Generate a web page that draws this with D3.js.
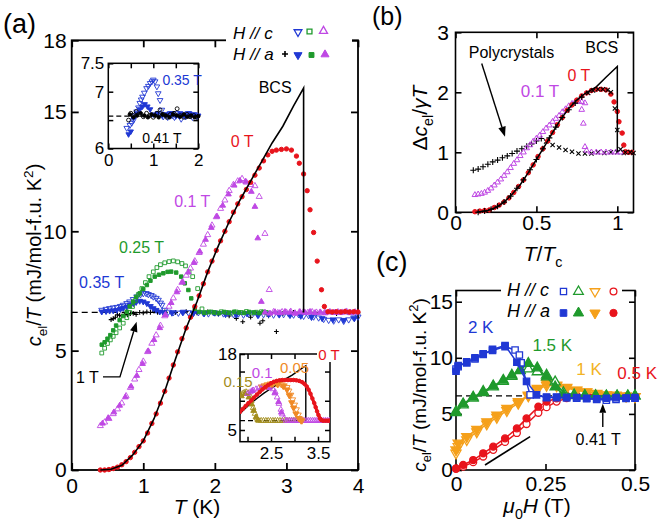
<!DOCTYPE html>
<html><head><meta charset="utf-8">
<script src="https://cdn.jsdelivr.net/npm/d3@7"></script>
<style>body{margin:0;background:#fff}svg{display:block}</style>
</head><body><div id="chart"></div>
<script>
// ================= DATA =================
// ---- panel (a): c_el/T (mJ/mol-f.u. K^2) vs T (K) ----
const aGammaN = 6.6;
const aBCS = [[0.40,0.00],[0.55,0.03],[0.70,0.20],[0.85,0.62],[1.00,1.22],[1.15,2.15],[1.30,3.30],[1.45,4.65],[1.60,5.95],[1.75,7.05],[1.90,8.30],[2.05,9.40],[2.20,10.40],[2.35,11.30],[2.50,12.10],[2.65,12.90],[2.80,13.70],[2.95,14.40],[3.10,15.25],[3.24,16.00],[3.24,6.60]];
const a0T = [[0.40,0.00],[0.46,0.00],[0.52,0.02],[0.58,0.06],[0.64,0.12],[0.70,0.22],[0.76,0.35],[0.82,0.52],[0.88,0.74],[0.94,0.98],[1.00,1.22],[1.06,1.55],[1.12,1.95],[1.18,2.35],[1.24,2.80],[1.30,3.30],[1.36,3.85],[1.42,4.40],[1.48,4.95],[1.54,5.50],[1.60,5.95],[1.66,6.40],[1.72,6.85],[1.78,7.30],[1.84,7.80],[1.90,8.30],[1.96,8.75],[2.02,9.20],[2.08,9.60],[2.14,10.00],[2.20,10.40],[2.26,10.80],[2.32,11.15],[2.38,11.45],[2.44,11.75],[2.50,12.05],[2.56,12.35],[2.62,12.65],[2.68,12.95],[2.74,13.20],[2.80,13.35],[2.86,13.40],[2.93,13.43],[3.00,13.45],[3.07,13.40],[3.14,13.15],[3.18,12.85],[3.24,12.40],[3.29,11.70],[3.33,10.90],[3.38,9.95],[3.43,8.75],[3.49,7.55],[3.53,6.85],[3.58,6.63],[3.64,6.62],[3.70,6.63],[3.76,6.62],[3.82,6.64],[3.88,6.62],[3.94,6.63],[4.00,6.62]];
const a01T_c = [[0.40,1.85],[0.46,2.00],[0.52,2.15],[0.58,2.35],[0.64,2.55],[0.70,2.80],[0.76,3.10],[0.82,3.45],[0.88,3.80],[0.94,4.20],[1.00,4.55],[1.06,4.95],[1.12,5.30],[1.18,5.65],[1.24,6.05],[1.30,6.45],[1.36,6.85],[1.42,7.20],[1.48,7.55],[1.54,7.85],[1.60,8.15],[1.66,8.45],[1.72,8.75],[1.78,9.10],[1.84,9.45],[1.90,9.85],[1.96,10.25],[2.02,10.60],[2.08,10.95],[2.14,11.30],[2.20,11.70],[2.26,11.95],[2.32,12.10],[2.38,12.20],[2.44,12.05],[2.50,11.95],[2.56,11.90],[2.62,11.45],[2.70,9.90],[2.76,7.55],[2.82,6.62],[2.88,6.58],[2.94,6.62],[3.00,6.60],[3.06,6.64],[3.12,6.57],[3.18,6.61],[3.24,6.63],[3.30,6.59],[3.36,6.62],[3.42,6.60],[3.48,6.58],[3.54,6.63],[3.60,6.61],[3.66,6.59],[3.72,6.62],[3.78,6.60],[3.84,6.64],[3.90,6.58],[3.96,6.61]];
const a01T_a = [[0.43,1.95],[0.51,2.18],[0.59,2.42],[0.67,2.70],[0.75,3.05],[0.83,3.50],[0.91,3.95],[0.99,4.45],[1.07,4.98],[1.15,5.45],[1.23,5.95],[1.31,6.50],[1.39,7.00],[1.47,7.45],[1.55,7.88],[1.63,8.28],[1.71,8.68],[1.79,9.15],[1.87,9.65],[1.95,10.15],[2.03,10.62],[2.11,11.08],[2.19,11.55],[2.27,11.92],[2.35,12.12],[2.43,12.08],[2.51,11.66],[2.56,11.03],[2.60,9.71],[2.65,7.05],[2.70,6.60],[2.77,6.56],[2.84,6.62],[2.91,6.58],[2.98,6.63],[3.05,6.60],[3.12,6.56],[3.19,6.62],[3.26,6.59],[3.33,6.63],[3.40,6.58],[3.47,6.61],[3.54,6.57],[3.61,6.62],[3.68,6.60],[3.75,6.58],[3.82,6.62],[3.89,6.59],[3.96,6.61]];
const a025T_c = [[0.42,4.90],[0.46,5.10],[0.50,5.30],[0.54,5.45],[0.58,5.60],[0.62,5.75],[0.67,5.95],[0.72,6.15],[0.77,6.38],[0.81,6.60],[0.85,6.85],[0.89,7.10],[0.93,7.35],[0.98,7.60],[1.03,7.85],[1.08,8.10],[1.14,8.30],[1.19,8.48],[1.24,8.60],[1.30,8.68],[1.36,8.73],[1.42,8.76],[1.48,8.72],[1.54,8.65],[1.59,8.55],[1.64,8.30],[1.69,8.10],[1.76,7.60],[1.82,6.75],[1.88,6.60],[1.95,6.62],[2.02,6.58],[2.09,6.63],[2.16,6.60],[2.23,6.57],[2.30,6.62],[2.37,6.60],[2.44,6.64],[2.51,6.58],[2.58,6.61],[2.65,6.63],[2.72,6.60]];
const a025T_a = [[0.42,5.25],[0.46,5.35],[0.50,5.50],[0.54,5.65],[0.58,5.85],[0.62,6.05],[0.67,6.28],[0.72,6.45],[0.77,6.63],[0.81,6.85],[0.86,7.05],[0.90,7.25],[0.95,7.40],[1.00,7.58],[1.05,7.75],[1.10,7.93],[1.16,8.10],[1.22,8.18],[1.28,8.24],[1.34,8.30],[1.39,8.31],[1.46,8.27],[1.53,8.10],[1.58,7.82],[1.63,7.54],[1.67,7.19],[1.72,6.75],[1.78,6.62],[1.85,6.58],[1.92,6.62],[1.99,6.60],[2.06,6.57],[2.13,6.62],[2.20,6.59],[2.27,6.63],[2.34,6.60],[2.41,6.58],[2.48,6.62],[2.55,6.60],[2.62,6.57],[2.68,6.62]];
const a035T_c = [[0.42,6.70],[0.48,6.74],[0.53,6.77],[0.58,6.80],[0.63,6.82],[0.68,6.86],[0.72,6.91],[0.77,6.98],[0.81,7.05],[0.86,7.15],[0.91,7.26],[0.96,7.35],[1.00,7.40],[1.04,7.40],[1.07,7.36],[1.11,7.32],[1.14,7.26],[1.18,7.20],[1.21,7.12],[1.24,7.00],[1.26,6.91],[1.30,6.70],[1.35,6.62],[1.42,6.60],[1.49,6.58],[1.56,6.62],[1.63,6.60],[1.70,6.57],[1.77,6.60],[1.84,6.58],[1.91,6.55],[1.98,6.60],[2.05,6.57],[2.12,6.55],[2.19,6.58],[2.26,6.52],[2.33,6.55],[2.40,6.50],[2.47,6.55],[2.54,6.58],[2.61,6.50],[2.68,6.52],[2.75,6.55],[2.82,6.50],[2.89,6.55],[2.96,6.52],[3.03,6.55],[3.10,6.50],[3.17,6.52],[3.24,6.45],[3.31,6.48],[3.38,6.42],[3.45,6.38],[3.52,6.32],[3.59,6.28],[3.66,6.25],[3.73,6.30],[3.80,6.24],[3.87,6.30],[3.94,6.38],[4.00,6.42]];
const a035T_a = [[0.42,6.63],[0.48,6.65],[0.53,6.67],[0.58,6.68],[0.63,6.70],[0.68,6.74],[0.72,6.78],[0.77,6.84],[0.81,6.91],[0.86,6.98],[0.90,7.03],[0.95,7.08],[1.00,7.05],[1.05,6.98],[1.10,6.86],[1.14,6.77],[1.18,6.70],[1.23,6.63],[1.28,6.60],[1.40,6.58],[1.55,6.60],[1.70,6.57],[1.85,6.55],[2.00,6.58],[2.15,6.52],[2.30,6.50],[2.45,6.55],[2.60,6.48],[2.75,6.52],[2.90,6.50],[3.05,6.48],[3.20,6.45],[3.35,6.40],[3.50,6.35],[3.65,6.30],[3.80,6.28],[3.95,6.35]];
const a1T_a = [[0.55,6.30],[0.58,6.34],[0.61,6.40],[0.64,6.50],[0.67,6.48],[0.70,6.45],[0.74,6.52],[0.78,6.50],[0.82,6.55],[0.86,6.56],[0.90,6.52],[0.95,6.60],[1.00,6.58],[1.05,6.62],[1.10,6.60],[1.15,6.65],[1.20,6.60],[1.30,6.62],[1.45,6.60],[1.60,6.64],[1.75,6.58],[1.90,6.62],[2.05,6.55],[2.20,6.45],[2.30,6.35],[2.39,6.21],[2.50,6.40],[2.63,6.15],[2.67,6.25],[2.75,6.45],[2.86,5.80],[2.95,6.55],[3.10,6.60],[3.25,6.62],[3.40,6.58],[3.55,6.60],[3.70,6.55],[3.85,6.60],[4.00,6.58]];
const aXTicks = [0,1,2,3,4];
const aYTicks = [0,5,10,15,18];

// ---- inset 1 of (a) ----
const i1_035T_c = [[0.41,6.36],[0.48,6.41],[0.52,6.45],[0.56,6.50],[0.60,6.58],[0.63,6.65],[0.67,6.72],[0.70,6.80],[0.73,6.86],[0.76,6.91],[0.80,6.98],[0.85,7.06],[0.89,7.10],[0.93,7.15],[0.97,7.18],[1.00,7.21],[1.04,7.18],[1.08,7.09],[1.11,6.97],[1.15,6.85],[1.19,6.68],[1.22,6.56],[1.27,6.60],[1.32,6.55],[1.37,6.62],[1.42,6.58],[1.47,6.55],[1.52,6.62],[1.57,6.58],[1.62,6.52],[1.67,6.60],[1.72,6.56],[1.77,6.62],[1.82,6.58],[1.87,6.55],[1.92,6.60],[1.97,6.57]];
const i1_035T_a = [[0.45,6.25],[0.50,6.30],[0.56,6.54],[0.63,6.62],[0.70,6.69],[0.76,6.74],[0.81,6.78],[0.87,6.74],[0.93,6.69],[1.00,6.60],[1.10,6.62],[1.20,6.58],[1.30,6.60],[1.40,6.62],[1.50,6.57],[1.60,6.62],[1.70,6.58],[1.80,6.62],[1.90,6.60],[2.00,6.58]];
const i1_041T_c = [[0.45,6.50],[0.50,6.62],[0.55,6.58],[0.62,6.65],[0.70,6.60],[0.78,6.56],[0.85,6.62],[0.92,6.58],[1.00,6.55],[1.08,6.62],[1.15,6.68],[1.22,6.60],[1.30,6.55],[1.38,6.60],[1.46,6.62],[1.53,6.70],[1.60,6.58],[1.68,6.55],[1.75,6.60],[1.82,6.56],[1.90,6.58],[1.97,6.55]];
const i1_041T_a = [[0.48,6.60],[0.56,6.55],[0.64,6.58],[0.72,6.62],[0.80,6.58],[0.88,6.55],[0.96,6.60],[1.04,6.58],[1.12,6.55],[1.20,6.60],[1.28,6.58],[1.36,6.55],[1.44,6.60],[1.52,6.58],[1.60,6.56],[1.68,6.60],[1.76,6.56],[1.84,6.58],[1.92,6.55],[2.00,6.57]];

// ---- inset 2 of (a) ----
const i2_0T = [[1.84,8.10],[1.90,8.60],[1.96,9.10],[2.02,9.60],[2.08,10.05],[2.14,10.55],[2.20,11.05],[2.26,11.50],[2.32,11.95],[2.38,12.35],[2.44,12.70],[2.50,13.00],[2.56,13.25],[2.62,13.40],[2.68,13.50],[2.74,13.55],[2.80,13.55],[2.86,13.55],[2.92,13.55],[2.98,13.55],[3.04,13.50],[3.10,13.40],[3.16,13.20],[3.21,12.90],[3.26,12.45],[3.30,11.90],[3.34,11.20],[3.38,10.40],[3.42,9.60],[3.45,8.90],[3.48,8.20],[3.51,7.55],[3.54,7.00],[3.57,6.70],[3.61,6.60],[3.66,6.60],[3.71,6.60],[3.75,6.60]];
const i2_005T_c = [[2.30,12.40],[2.36,12.60],[2.42,12.78],[2.48,12.90],[2.54,12.95],[2.60,12.95],[2.66,12.90],[2.72,12.78],[2.78,12.60],[2.84,12.30],[2.88,11.70],[2.92,11.00],[2.96,10.20],[3.00,9.30],[3.04,8.50],[3.08,7.60],[3.12,6.90],[3.16,6.60]];
const i2_005T_a = [[2.40,12.55],[2.52,12.85],[2.64,12.80],[2.76,12.50],[2.84,11.90],[2.89,10.90],[2.94,9.70],[2.98,8.80],[3.03,7.80],[3.09,7.00],[3.14,6.60]];
const i2_01T_c = [[2.00,11.20],[2.06,11.50],[2.12,11.80],[2.18,12.00],[2.24,12.20],[2.30,12.35],[2.36,12.40],[2.42,12.40],[2.48,12.30],[2.54,12.00],[2.59,11.50],[2.63,10.60],[2.67,9.50],[2.71,8.50],[2.74,7.70],[2.78,7.00],[2.82,6.60],[2.86,6.60],[2.90,6.60],[2.94,6.60],[2.98,6.60],[3.02,6.60],[3.06,6.60],[3.10,6.60],[3.14,6.60],[3.18,6.60],[3.22,6.60],[3.26,6.60],[3.30,6.60],[3.34,6.60],[3.38,6.60],[3.42,6.60],[3.46,6.60],[3.50,6.60],[3.54,6.60],[3.58,6.60],[3.62,6.60],[3.66,6.60],[3.70,6.60],[3.74,6.60]];
const i2_01T_a = [[2.10,11.70],[2.30,12.30],[2.45,12.20],[2.58,11.30],[2.66,9.80],[2.72,8.00]];
const i2_015T_c = [[1.85,11.00],[1.89,11.20],[1.93,11.40],[1.97,11.50],[2.01,11.35],[2.05,10.90],[2.08,10.00],[2.12,8.80],[2.16,7.80],[2.20,7.00],[2.24,6.60],[2.29,6.60],[2.34,6.60],[2.39,6.60],[2.44,6.60],[2.49,6.60],[2.54,6.60],[2.59,6.60],[2.64,6.60],[2.69,6.60],[2.74,6.60],[2.79,6.60],[2.84,6.60],[2.89,6.60],[2.94,6.60],[2.99,6.60],[3.04,6.60]];
const i2_015T_a = [[1.87,10.80],[1.95,11.20],[2.03,10.60],[2.09,9.40],[2.13,8.30],[2.18,7.20],[2.22,6.70]];

// ---- panel (b): Δc_el/γT vs T/Tc ----
const bBCS = [[0.13,0.00],[0.20,0.03],[0.25,0.08],[0.30,0.17],[0.35,0.30],[0.40,0.46],[0.45,0.66],[0.50,0.88],[0.55,1.10],[0.60,1.33],[0.65,1.55],[0.70,1.73],[0.75,1.87],[0.80,1.98],[0.87,2.09],[0.93,2.25],[1.00,2.43],[1.00,1.00]];
const b0T = [[0.12,0.01],[0.15,0.02],[0.18,0.03],[0.21,0.04],[0.24,0.08],[0.27,0.12],[0.30,0.17],[0.33,0.24],[0.36,0.33],[0.39,0.43],[0.42,0.54],[0.45,0.66],[0.48,0.79],[0.51,0.93],[0.54,1.06],[0.57,1.19],[0.60,1.33],[0.63,1.46],[0.66,1.58],[0.69,1.70],[0.72,1.79],[0.75,1.87],[0.78,1.94],[0.81,1.99],[0.84,2.03],[0.87,2.05],[0.90,2.05],[0.93,2.04],[0.96,1.97],[0.98,1.84],[1.00,1.68],[1.01,1.51],[1.03,1.32],[1.04,1.12],[1.05,1.01],[1.07,1.00],[1.09,1.00]];
const b01T = [[0.12,0.29],[0.14,0.30],[0.16,0.31],[0.18,0.33],[0.20,0.36],[0.22,0.40],[0.24,0.45],[0.26,0.50],[0.28,0.55],[0.30,0.61],[0.32,0.67],[0.34,0.74],[0.36,0.81],[0.38,0.87],[0.40,0.94],[0.42,1.00],[0.44,1.07],[0.46,1.12],[0.48,1.18],[0.50,1.23],[0.52,1.28],[0.54,1.34],[0.56,1.40],[0.58,1.45],[0.60,1.51],[0.62,1.56],[0.64,1.61],[0.66,1.67],[0.68,1.72],[0.70,1.77],[0.72,1.81],[0.74,1.84],[0.76,1.85],[0.78,1.84],[0.80,1.82],[0.78,1.71],[0.79,1.48],[0.80,1.09],[0.81,1.03],[0.84,1.00],[0.87,1.00],[0.90,1.00],[0.93,1.00],[0.96,1.00],[0.99,1.00],[1.02,1.00]];
const bPolyBroadPlus = [[0.11,0.70],[0.14,0.72],[0.17,0.76],[0.20,0.80],[0.23,0.84],[0.26,0.87],[0.29,0.91],[0.32,0.94],[0.35,0.98],[0.38,1.02],[0.41,1.06],[0.44,1.10],[0.47,1.14],[0.50,1.19],[0.53,1.23]];
const bPolyBroadCross = [[0.56,1.18],[0.60,1.12],[0.64,1.08],[0.68,1.04],[0.72,1.01],[0.76,0.98],[0.80,0.98],[0.84,0.98],[0.88,1.00],[0.92,0.99],[0.96,1.00],[1.00,1.00],[1.04,0.99],[1.08,1.00]];
const bPolyBulkPlus = [[0.14,0.00],[0.18,0.02],[0.22,0.05],[0.26,0.10],[0.30,0.17],[0.34,0.27],[0.38,0.40],[0.42,0.54],[0.46,0.71],[0.50,0.88],[0.54,1.06],[0.58,1.24],[0.62,1.42],[0.66,1.58],[0.70,1.71],[0.74,1.82],[0.78,1.92]];
const bPolyBulkCross = [[0.82,1.99],[0.85,2.03],[0.88,2.05],[0.91,2.05],[0.94,2.04],[0.96,2.00],[0.985,1.73],[1.00,1.37],[1.02,1.05],[1.05,1.00],[1.08,1.00],[1.10,0.99]];
const bXTicks = [0,0.5,1];
const bYTicks = [0,1,2,3];

// ---- panel (c): c_el/T vs μ0H (T) ----
const c2K_c = [[0.000,9.00],[0.006,9.20],[0.030,9.65],[0.053,9.90],[0.076,10.35],[0.102,10.65],[0.137,11.00],[0.165,10.70],[0.177,10.25],[0.182,9.55],[0.207,6.70],[0.253,6.50],[0.281,6.45],[0.309,6.45],[0.337,6.40],[0.365,6.35],[0.393,6.30],[0.420,6.22],[0.447,6.30],[0.475,6.38],[0.500,6.40]];
const c2K_a = [[0.000,8.80],[0.006,9.30],[0.030,9.55],[0.053,10.00],[0.076,10.30],[0.102,10.75],[0.137,11.10],[0.170,9.60],[0.197,7.90],[0.225,6.70],[0.253,6.45],[0.281,6.50],[0.309,6.45],[0.337,6.45],[0.365,6.40],[0.393,6.35],[0.420,6.40],[0.447,6.45],[0.475,6.42],[0.500,6.45]];
const c15K_c = [[0.000,5.20],[0.020,5.80],[0.048,6.40],[0.076,6.90],[0.104,7.40],[0.132,7.90],[0.156,8.35],[0.179,8.85],[0.202,9.00],[0.227,8.75],[0.253,8.45],[0.277,7.85],[0.300,6.90],[0.330,6.70],[0.360,6.62],[0.390,6.60],[0.420,6.58],[0.450,6.60],[0.480,6.58],[0.500,6.60]];
const c15K_a = [[0.000,5.10],[0.020,5.90],[0.048,6.50],[0.076,7.00],[0.104,7.50],[0.132,8.00],[0.156,8.45],[0.179,8.90],[0.202,9.50],[0.227,9.10],[0.253,8.30],[0.277,7.40],[0.300,6.70],[0.330,6.62],[0.360,6.60],[0.390,6.62],[0.420,6.60],[0.450,6.58],[0.480,6.60],[0.500,6.60]];
const c1K_c = [[0.000,1.50],[0.006,2.10],[0.030,2.70],[0.058,3.40],[0.086,4.10],[0.114,4.70],[0.142,5.30],[0.174,5.95],[0.202,6.60],[0.227,7.15],[0.253,7.55],[0.281,7.50],[0.309,7.30],[0.337,7.10],[0.365,6.95],[0.393,6.80],[0.420,6.70],[0.447,6.62],[0.475,6.58],[0.500,6.55]];
const c1K_a = [[0.000,1.80],[0.006,2.40],[0.030,2.97],[0.058,3.62],[0.086,4.30],[0.114,4.90],[0.142,5.50],[0.174,6.09],[0.202,6.68],[0.227,7.28],[0.253,7.73],[0.281,7.58],[0.309,7.37],[0.337,7.13],[0.365,6.98],[0.393,6.83],[0.420,6.68],[0.447,6.68],[0.475,6.60],[0.500,6.55]];
const c05K_c = [[0.000,0.10],[0.020,0.30],[0.048,0.70],[0.076,1.20],[0.104,1.80],[0.137,2.50],[0.170,3.30],[0.197,4.10],[0.230,5.10],[0.253,5.60],[0.281,6.10],[0.309,6.40],[0.337,6.55],[0.365,6.70],[0.393,6.70],[0.420,6.60],[0.447,6.55],[0.475,6.55],[0.500,6.50]];
const c05K_a = [[0.000,0.15],[0.020,0.45],[0.048,0.89],[0.076,1.49],[0.104,2.08],[0.137,2.82],[0.170,3.71],[0.197,4.60],[0.230,5.64],[0.253,6.09],[0.281,6.39],[0.309,6.60],[0.337,6.62],[0.365,6.65],[0.393,6.65],[0.420,6.62],[0.447,6.60],[0.475,6.55],[0.500,6.55]];
const cGuide = [[0.081,0.45],[0.207,2.97]];
const cXTicks = [0,0.25,0.5];
const cYTicks = [0,5,10,15];

// ================= DRAWING =================
const FONT = '"Liberation Sans", Arial, Helvetica, sans-serif';
const RED='#e8141c', MAG='#bf48e4', BLUE='#2038d4', GREEN='#1f9a2c', ORANGE='#f08a26', OLIVE='#a38d1c', CORANGE='#f5a01a', CYEL='#f2b324';
const svg = d3.select('#chart').append('svg').attr('width',660).attr('height',523).attr('font-family',FONT);
svg.append('rect').attr('width',660).attr('height',523).attr('fill','#fff');

const plusType = {draw(c,s){const r=Math.sqrt(s)/2;c.moveTo(-r,0);c.lineTo(r,0);c.moveTo(0,-r);c.lineTo(0,r);}};
const SYM = {up:d3.symbolTriangle, down:d3.symbolTriangle, square:d3.symbolSquare, circle:d3.symbolCircle, plus:plusType, cross:plusType};

function scatter(g, data, x, y, o){
  const gen = d3.symbol().type(SYM[o.shape]).size(o.size);
  const rot = o.shape==='down'?' rotate(180)':(o.shape==='cross'?' rotate(45)':'');
  const thin = o.shape==='plus'||o.shape==='cross';
  g.append('g').selectAll('path').data(data).join('path')
    .attr('d',gen)
    .attr('transform',d=>`translate(${x(d[0])},${y(d[1])})${rot}`)
    .attr('fill', thin?'none':(o.open?(o.bg||'none'):o.color))
    .attr('stroke',o.color).attr('stroke-width',o.sw||1);
}
function line(g, data, x, y, o){
  g.append('path').datum(data).attr('d',d3.line().x(d=>x(d[0])).y(d=>y(d[1])))
   .attr('fill','none').attr('stroke',o.color).attr('stroke-width',o.sw||1)
   .attr('stroke-dasharray',o.dash||null);
}
function rich(g, x, y, parts, o){
  const t = g.append('text').attr('transform',`translate(${x},${y})${o.rot?' rotate('+o.rot+')':''}`)
    .attr('font-size',o.size).attr('text-anchor',o.anchor||'middle').attr('fill',o.color||'#000');
  let shift=0;
  parts.forEach(([s,st])=>{
    st = st||'';
    const sp = t.append('tspan').text(s);
    let target=0, fs=o.size;
    if(st.indexOf('sub')>=0){target=o.size*0.28; fs=o.size*0.68;}
    if(st.indexOf('sup')>=0){target=-o.size*0.42; fs=o.size*0.68;}
    sp.attr('dy',target-shift); shift=target;
    if(fs!==o.size) sp.attr('font-size',fs);
    if(st.indexOf('ital')>=0) sp.attr('font-style','italic');
  });
  return t;
}
function label(g, x, y, txt, o){
  return g.append('text').attr('x',x).attr('y',y).attr('font-size',o.size).attr('text-anchor',o.anchor||'middle')
    .attr('fill',o.color||'#000').attr('font-style',o.italic?'italic':null).text(txt);
}
function arrow(g, pts, color, sw, head){
  const n=pts.length, [x1,y1]=pts[n-2], [x2,y2]=pts[n-1];
  const a=Math.atan2(y2-y1,x2-x1), L=head, Wd=head*0.38;
  const base=[x2-L*Math.cos(a), y2-L*Math.sin(a)];
  const shaft=pts.slice(0,n-1).concat([base]);
  g.append('path').attr('d',d3.line()(shaft)).attr('fill','none').attr('stroke',color).attr('stroke-width',sw);
  const p=[[x2,y2],[base[0]+Wd*Math.sin(a),base[1]-Wd*Math.cos(a)],[base[0]-Wd*Math.sin(a),base[1]+Wd*Math.cos(a)]];
  g.append('path').attr('d','M'+p.join('L')+'Z').attr('fill',color);
}
function axes(g, x, y, o){
  const [x0,x1]=x.range(), [yb,yt]=y.range();
  const style = sel=>{ sel.select('.domain').remove();
    sel.selectAll('line').attr('stroke','#000').attr('stroke-width',o.sw);
    sel.selectAll('text').attr('font-size',o.fs).attr('font-family',FONT).attr('fill','#000'); };
  const fx = o.xf||(d=>String(d)), fy = o.yf||(d=>String(d));
  g.append('g').attr('transform',`translate(0,${yb})`).call(d3.axisBottom(x).tickValues(o.xt).tickSizeInner(-o.len).tickSizeOuter(0).tickPadding(o.xpad).tickFormat(fx)).call(style);
  g.append('g').attr('transform',`translate(0,${yt})`).call(d3.axisTop(x).tickValues(o.xt).tickSizeInner(-o.len).tickSizeOuter(0).tickFormat('')).call(style);
  g.append('g').attr('transform',`translate(${x0},0)`).call(d3.axisLeft(y).tickValues(o.yt).tickSizeInner(-o.len).tickSizeOuter(0).tickPadding(o.ypad).tickFormat(fy)).call(style);
  g.append('g').attr('transform',`translate(${x1},0)`).call(d3.axisRight(y).tickValues(o.yt).tickSizeInner(-o.len).tickSizeOuter(0).tickFormat('')).call(style);
  g.append('rect').attr('x',x0).attr('y',yt).attr('width',x1-x0).attr('height',yb-yt).attr('fill','none').attr('stroke','#000').attr('stroke-width',o.sw);
}

// ---------- Panel (a) ----------
const gA = svg.append('g');
const xA = d3.scaleLinear([0,4],[71.7,358]);
const yA = d3.scaleLinear([0,18],[470,40.3]);
axes(gA, xA, yA, {xt:aXTicks, yt:aYTicks, len:7, sw:1.8, fs:21, xpad:8, ypad:5});
line(gA, [[0,aGammaN],[4,aGammaN]], xA, yA, {color:'#000', sw:1.3, dash:'6,4'});
scatter(gA, a1T_a, xA, yA, {shape:'plus', size:22, color:'#000', sw:1.1});
scatter(gA, a035T_a, xA, yA, {shape:'down', size:14, color:BLUE});
scatter(gA, a035T_c, xA, yA, {shape:'down', size:16, color:BLUE, open:true, sw:0.9});
scatter(gA, a025T_a, xA, yA, {shape:'square', size:12, color:GREEN});
scatter(gA, a025T_c, xA, yA, {shape:'square', size:14, color:GREEN, open:true, sw:0.9});
scatter(gA, a01T_a, xA, yA, {shape:'up', size:14, color:MAG});
scatter(gA, a01T_c, xA, yA, {shape:'up', size:16, color:MAG, open:true, sw:0.9});
scatter(gA, a0T, xA, yA, {shape:'circle', size:15, color:RED});
line(gA, aBCS, xA, yA, {color:'#000', sw:1.6});
label(gA, xA(2.38), yA(13.53), '0 T', {size:16, color:RED});
label(gA, xA(1.685), yA(11.02), '0.1 T', {size:16, color:MAG});
label(gA, xA(0.976), yA(9.11), '0.25 T', {size:16, color:GREEN});
label(gA, xA(0.418), yA(7.62), '0.35 T', {size:16, color:BLUE});
label(gA, xA(0.22), yA(3.64), '1 T', {size:16});
label(gA, xA(2.842), yA(15.79), 'BCS', {size:16});
arrow(gA, [[xA(0.437),yA(3.9)],[xA(0.674),yA(3.9)],[xA(0.907),yA(6.21)]], '#000', 1.4, 10);

// legend (a)
const legA = svg.append('g');
legA.append('rect').attr('x',226).attr('y',17).attr('width',126).attr('height',47).attr('fill','#fff');
rich(legA, 233, 39, [['H // c','ital']], {size:17, anchor:'start'});
rich(legA, 233, 60, [['H // a','ital']], {size:17, anchor:'start'});
const idx = d3.scaleLinear([0,1],[0,1]);
scatter(legA, [[298,32]], idx, idx, {shape:'down', size:26, color:BLUE, open:true, sw:1.3});
scatter(legA, [[309.5,31.5]], idx, idx, {shape:'square', size:24, color:GREEN, open:true, sw:1.3});
scatter(legA, [[323.5,31]], idx, idx, {shape:'up', size:28, color:MAG, open:true, sw:1.3});
scatter(legA, [[285,54]], idx, idx, {shape:'plus', size:36, color:'#000', sw:1.6});
scatter(legA, [[298,55]], idx, idx, {shape:'down', size:28, color:BLUE});
scatter(legA, [[311.5,55]], idx, idx, {shape:'square', size:24, color:GREEN});
scatter(legA, [[325,54.5]], idx, idx, {shape:'up', size:28, color:MAG});

// y & x labels (a)
rich(svg, 41, 255, [['c','ital'],['el','sub'],['/',''],['T','ital'],[' (mJ/mol-f.u. K',''],['2','sup'],[')','']], {size:20, rot:-90});
rich(svg, 197, 514, [['T','ital'],[' (K)','']], {size:21});

// ---------- Inset 1 ----------
const gI1 = svg.append('g');
const xI1 = d3.scaleLinear([0,2],[108.3,198.3]);
const yI1 = d3.scaleLinear([6,7.5],[148.5,63.3]);
gI1.append('rect').attr('x',108.3).attr('y',63.3).attr('width',90).attr('height',85.2).attr('fill','#fff');
axes(gI1, xI1, yI1, {xt:[0,0.5,1,1.5,2], yt:[6,6.5,7,7.5], len:5, sw:1.5, fs:17, xpad:5, ypad:4,
  xf:d=>(d%1===0?String(d):''), yf:d=>(d===6.5?'':String(d))});
line(gI1, [[0,6.57],[2,6.57]], xI1, yI1, {color:'#000', sw:1.2, dash:'5,3'});
scatter(gI1, i1_035T_a, xI1, yI1, {shape:'down', size:12, color:BLUE});
scatter(gI1, i1_035T_c, xI1, yI1, {shape:'down', size:14, color:BLUE, open:true, sw:0.9});
scatter(gI1, i1_041T_a, xI1, yI1, {shape:'circle', size:10, color:'#000'});
scatter(gI1, i1_041T_c, xI1, yI1, {shape:'circle', size:12, color:'#000', open:true, sw:0.9});
label(gI1, xI1(1.64), yI1(7.12), '0.35 T', {size:14, color:BLUE});
label(gI1, xI1(1.19), yI1(6.10), '0.41 T', {size:14});

// ---------- Inset 2 ----------
const gI2 = svg.append('g');
const xI2 = d3.scaleLinear([1.84,3.755],[240,330]);
const yI2 = d3.scaleLinear([3,18],[441.7,354]);
gI2.append('rect').attr('x',240).attr('y',354).attr('width',90).attr('height',87.7).attr('fill','#fff');
const clip2 = svg.append('clipPath').attr('id','clipI2');
clip2.append('rect').attr('x',240).attr('y',354).attr('width',90).attr('height',87.7);
axes(gI2, xI2, yI2, {xt:[2,2.5,3,3.5], yt:[5,10,15,18], len:5, sw:1.5, fs:17, xpad:5, ypad:3,
  xf:d=>(d===2.5||d===3.5?String(d):''), yf:d=>(d===5||d===18?String(d):'')});
const dI2 = gI2.append('g').attr('clip-path','url(#clipI2)');
line(dI2, [[1.84,6.6],[3.1,6.6]], xI2, yI2, {color:'#000', sw:1.2, dash:'5,3'});
line(dI2, aBCS, xI2, yI2, {color:'#000', sw:1.4});
scatter(dI2, i2_015T_c, xI2, yI2, {shape:'up', size:14, color:OLIVE, open:true, sw:0.9});
scatter(dI2, i2_015T_a, xI2, yI2, {shape:'up', size:14, color:OLIVE});
scatter(dI2, i2_01T_c, xI2, yI2, {shape:'up', size:14, color:MAG, open:true, sw:0.9});
scatter(dI2, i2_01T_a, xI2, yI2, {shape:'up', size:14, color:MAG});
scatter(dI2, i2_005T_c, xI2, yI2, {shape:'down', size:16, color:ORANGE, open:true, sw:0.9});
scatter(dI2, i2_005T_a, xI2, yI2, {shape:'down', size:16, color:ORANGE});
line(dI2, i2_0T, xI2, yI2, {color:RED, sw:3});
scatter(dI2, i2_0T, xI2, yI2, {shape:'circle', size:10, color:RED});
label(gI2, xI2(1.797), yI2(12.35), '0.15', {size:15, color:OLIVE});
label(gI2, xI2(2.31), yI2(13.9), '0.1', {size:15, color:MAG});
label(gI2, xI2(3.0), yI2(14.75), '0.05', {size:15, color:ORANGE});
gI2.append('rect').attr('x',xI2(3.734)-12).attr('y',yI2(16.97)-12).attr('width',25).attr('height',14).attr('fill','#fff');
label(gI2, xI2(3.734), yI2(16.97), '0 T', {size:15, color:RED});

// ---------- Panel (b) ----------
const gB = svg.append('g');
const xB = d3.scaleLinear([0,1.1],[455.5,633.5]);
const yB = d3.scaleLinear([0,3],[212.3,32.3]);
axes(gB, xB, yB, {xt:bXTicks, yt:bYTicks, len:6, sw:1.6, fs:21, xpad:3, ypad:6.5});
scatter(gB, bPolyBroadPlus, xB, yB, {shape:'plus', size:36, color:'#000', sw:1.1});
scatter(gB, bPolyBroadCross, xB, yB, {shape:'cross', size:36, color:'#000', sw:1.1});
scatter(gB, b01T, xB, yB, {shape:'up', size:14, color:MAG, open:true});
scatter(gB, b0T, xB, yB, {shape:'circle', size:16, color:RED});
line(gB, bBCS, xB, yB, {color:'#000', sw:1.5});
scatter(gB, bPolyBulkPlus, xB, yB, {shape:'plus', size:36, color:'#000', sw:1.1});
scatter(gB, bPolyBulkCross, xB, yB, {shape:'cross', size:36, color:'#000', sw:1.1});
label(gB, xB(0.346), yB(2.57), 'Polycrystals', {size:16});
label(gB, xB(0.904), yB(2.655), 'BCS', {size:16});
label(gB, xB(0.763), yB(2.188), '0 T', {size:16, color:RED});
label(gB, xB(0.522), yB(1.92), '0.1 T', {size:17, color:MAG});
arrow(gB, [[xB(0.162),yB(2.48)],[xB(0.306),yB(1.26)]], '#000', 1.4, 10);
rich(svg, 427, 118, [['Δ',''],['c','ital'],['el','sub'],['/',''],['γ','ital'],['T','ital']], {size:21, rot:-90});
rich(svg, 543, 261, [['T','ital'],['/',''],['T','ital'],['c','sub']], {size:21});

// ---------- Panel (c) ----------
const gC = svg.append('g');
const xC = d3.scaleLinear([0,0.5],[456,635]);
const yC = d3.scaleLinear([0,16],[470,290.5]);
axes(gC, xC, yC, {xt:cXTicks, yt:cYTicks, len:6, sw:1.6, fs:21, xpad:6, ypad:3});
line(gC, [[0,6.6],[0.5,6.6]], xC, yC, {color:'#000', sw:1.3, dash:'6,4'});
const cSeries = [
  [c05K_c, RED, 'circle', true], [c05K_a, RED, 'circle', false],
  [c1K_c, CORANGE, 'down', true], [c1K_a, CORANGE, 'down', false],
  [c15K_c, GREEN, 'up', true], [c15K_a, GREEN, 'up', false],
  [c2K_c, BLUE, 'square', true], [c2K_a, BLUE, 'square', false]
];
cSeries.forEach(([d,col,sh,op])=>{
  line(gC, d, xC, yC, {color:col, sw:1.5});
  scatter(gC, d, xC, yC, {shape:sh, size: sh==='circle'?38:(sh==='square'?40:44), color:col, open:op, bg:'#fff', sw:1.3});
});
line(gC, cGuide, xC, yC, {color:'#000', sw:1.6});
label(gC, xC(0.069), yC(12.2), '2 K', {size:17, color:BLUE});
label(gC, xC(0.269), yC(10.6), '1.5 K', {size:17, color:GREEN});
label(gC, xC(0.3715), yC(8.47), '1 K', {size:17, color:CYEL});
label(gC, xC(0.506), yC(8.11), '0.5 K', {size:17, color:RED});
label(gC, xC(0.397), yC(2.23), '0.41 T', {size:16});
arrow(gC, [[xC(0.41),yC(3.83)],[xC(0.41),yC(5.9)]], '#000', 1.4, 9);

// legend (c)
const legC = svg.append('g');
legC.append('rect').attr('x',501).attr('y',279).attr('width',121).attr('height',43).attr('fill','#fff');
rich(legC, 507, 296, [['H // c','ital']], {size:18, anchor:'start'});
rich(legC, 507, 317, [['H // a','ital']], {size:18, anchor:'start'});
const legCx = [563.5,578.5,595,613.5];
[['square',BLUE,38],['up',GREEN,40],['down',CORANGE,40],['circle',RED,36]].forEach(([sh,col,sz],i)=>{
  scatter(legC, [[legCx[i],291.5]], idx, idx, {shape:sh, size:sz, color:col, open:true, bg:'#fff', sw:1.3});
  scatter(legC, [[legCx[i],313]], idx, idx, {shape:sh, size:sz+6, color:col});
});
rich(svg, 426, 385, [['c','ital'],['el','sub'],['/',''],['T','ital'],[' (mJ/mol-f.u. K',''],['2','sup'],[')','']], {size:19, rot:-90});
rich(svg, 537, 513, [['μ','ital'],['0','sub'],['H','ital'],[' (T)','']], {size:21});

// panel labels
label(svg, 3, 33, '(a)', {size:27, anchor:'start'});
label(svg, 372, 25, '(b)', {size:25, anchor:'start'});
label(svg, 376, 271, '(c)', {size:27, anchor:'start'});
</script></body></html>
